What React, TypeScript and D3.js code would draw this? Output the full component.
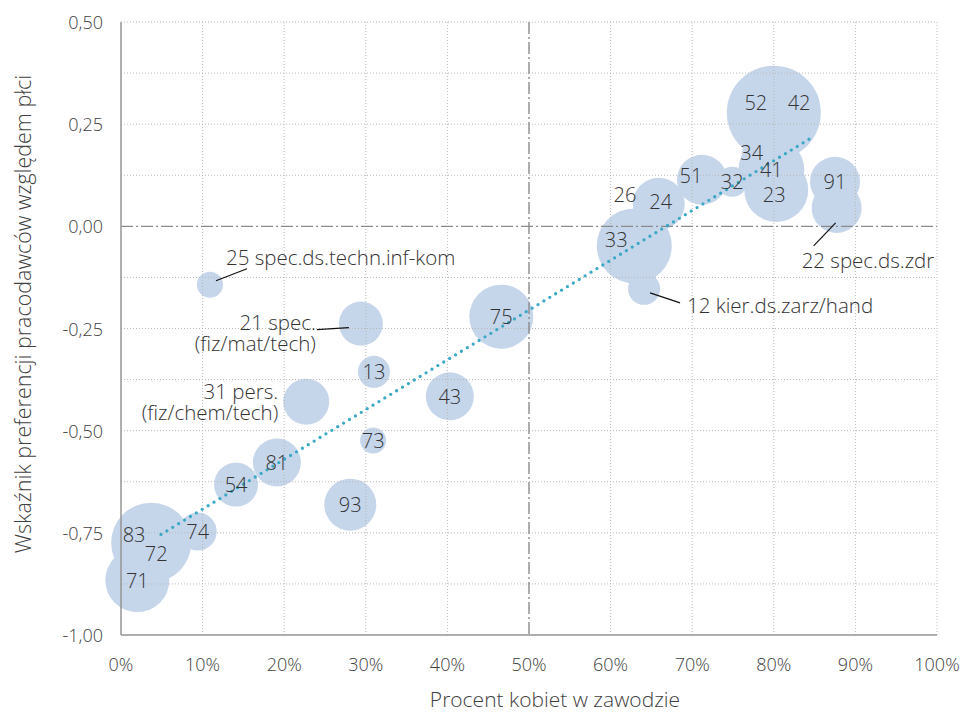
import React from "react";
import * as d3 from "d3";

// ---- data ----
const codes = ["52","42","34","41","23","91","22","51","32","24","26","33","12","75","43","13","73","21","31","25","81","54","93","74","72","83","71"];
const pctWomen = [80.0,83.1,77.3,79.7,80.3,87.5,87.7,71.2,74.9,65.9,63.6,62.9,64.1,46.6,40.3,31.0,30.9,29.4,22.7,10.9,19.1,14.1,28.1,9.4,3.7,1.6,2.0];
const prefIndex = [0.278,0.302,0.180,0.138,0.089,0.109,0.045,0.114,0.109,0.055,0.011,-0.048,-0.153,-0.221,-0.416,-0.356,-0.524,-0.238,-0.429,-0.143,-0.578,-0.632,-0.681,-0.747,-0.774,-0.754,-0.866];
const sizes = [2209,400,100,1089,1024,625,625,625,225,676,144,1406,256,1024,576,256,169,484,529,169,576,484,676,361,1600,400,1024];

const xTicks = [0,10,20,30,40,50,60,70,80,90,100];
const yTicks = [0.5,0.25,0,-0.25,-0.5,-0.75,-1];
const yGrid = [0.5,0.375,0.25,0.125,-0.125,-0.25,-0.375,-0.5,-0.625,-0.75,-0.875];
const trendX = [4.9, 84.8];
const trendY = [-0.754, 0.219];

// codes with external labels
const externalCodes = ["25","21","31","22","12"];
const externalLabels = [
  { code: "25", lines: ["25 spec.ds.techn.inf-kom"] },
  { code: "21", lines: ["21 spec.", "(fiz/mat/tech)"] },
  { code: "31", lines: ["31 pers.", "(fiz/chem/tech)"] },
  { code: "22", lines: ["22 spec.ds.zdr"] },
  { code: "12", lines: ["12 kier.ds.zarz/hand"] },
];

// layout (px)
const labelShift: Record<string, [number, number]> = {
  "52": [-18, -10], "26": [-15, -27], "33": [-18, -6], "51": [-11, -4],
  "72": [5, 11], "23": [-2, 5], "24": [2, -2],
};
const extLayout: Record<string, { anchor: string; tx: number; ty: number; line: [number, number, number, number] | null }> = {
  "25": { anchor: "start", tx: 16, ty: -28, line: [6, -4, 37, -16] },
  "21": { anchor: "end", tx: -45, ty: -1.5, line: [-12, 4, -44, 6] },
  "31": { anchor: "end", tx: -28, ty: -10.5, line: null },
  "22": { anchor: "start", tx: -35, ty: 52, line: [-1, 15, -23, 38] },
  "12": { anchor: "start", tx: 43, ty: 16, line: [6, 4, 36, 14] },
};

const W = 966, H = 713;
const m = { left: 121, right: 937, top: 22, bottom: 635 };
const FONT = "'Open Sans', 'Noto Sans', sans-serif";

export default function App() {
  const x = d3.scaleLinear().domain([0, 100]).range([m.left, m.right]);
  const y = d3.scaleLinear().domain([-1, 0.5]).range([m.bottom, m.top]);
  const r = d3.scaleSqrt().domain([0, d3.max(sizes)!]).range([0, 47]);
  const fmtY = (v: number) => d3.format(".2f")(v).replace(".", ",").replace("−", "-");

  const bubbles = codes.map((c, i) => ({ code: c, cx: x(pctWomen[i]), cy: y(prefIndex[i]), r: r(sizes[i]) }));
  const byCode: Record<string, typeof bubbles[0]> = {};
  bubbles.forEach((b) => (byCode[b.code] = b));

  const trend = d3.line<number>().x((_, i) => x(trendX[i])).y((_, i) => y(trendY[i]));

  return (
    <svg width={W} height={H} style={{ position: "absolute", left: 0, top: 0, background: "#fff" }} fontFamily={FONT}>
      {/* bubbles */}
      {bubbles.map((b) => (
        <circle key={"c" + b.code} cx={b.cx} cy={b.cy} r={b.r} fill="#c6d6ea" />
      ))}
      {/* grid */}
      {yGrid.map((v) => (
        <line key={"gy" + v} x1={m.left} x2={m.right} y1={y(v)} y2={y(v)} stroke="#b8b8b8" strokeWidth={1} strokeDasharray="1 2" />
      ))}
      {xTicks.filter((v) => v !== 0 && v !== 50).map((v) => (
        <line key={"gx" + v} x1={x(v)} x2={x(v)} y1={m.top} y2={m.bottom} stroke="#b8b8b8" strokeWidth={1} strokeDasharray="1 2" />
      ))}
      {/* dashed reference lines */}
      <line x1={m.left} x2={m.right} y1={y(0)} y2={y(0)} stroke="#8a8a8a" strokeWidth={1.4} strokeDasharray="12 3 2 3" />
      <line x1={x(50)} x2={x(50)} y1={m.top} y2={m.bottom} stroke="#8a8a8a" strokeWidth={1.4} strokeDasharray="12 3 2 3" />
      {/* axes */}
      <line x1={m.left} x2={m.left} y1={m.top} y2={m.bottom} stroke="#959595" strokeWidth={1.5} />
      <line x1={m.left} x2={m.right} y1={m.bottom} y2={m.bottom} stroke="#959595" strokeWidth={1.5} />
      {/* trend line */}
      <path d={trend([0, 1]) || ""} fill="none" stroke="#3ba9c6" strokeWidth={3.3} strokeLinecap="round" strokeDasharray="0 6.9" />
      {/* bubble labels */}
      {bubbles.filter((b) => !externalCodes.includes(b.code)).map((b) => {
        const s = labelShift[b.code] || [0, 0];
        return (
          <text key={"t" + b.code} x={b.cx + s[0]} y={b.cy + s[1]} textAnchor="middle" dominantBaseline="central" fontSize={20} fontWeight={300} fill="#333">
            {b.code}
          </text>
        );
      })}
      {/* external labels */}
      {externalLabels.map((e) => {
        const b = byCode[e.code];
        const L = extLayout[e.code];
        return (
          <g key={"e" + e.code}>
            {L.line && (
              <line x1={b.cx + L.line[0]} y1={b.cy + L.line[1]} x2={b.cx + L.line[2]} y2={b.cy + L.line[3]} stroke="#111" strokeWidth={1.2} />
            )}
            {e.lines.map((t, j) => (
              <text key={j} x={b.cx + L.tx} y={b.cy + L.ty + j * 21} textAnchor={L.anchor} dominantBaseline="central" fontSize={20.5} fontWeight={300} fill="#333">
                {t}
              </text>
            ))}
          </g>
        );
      })}
      {/* y ticks */}
      {yTicks.map((v) => (
        <text key={"yt" + v} x={103} y={y(v)} textAnchor="end" dominantBaseline="central" fontSize={18} fontWeight={300} fill="#404040">
          {fmtY(v)}
        </text>
      ))}
      {/* x ticks */}
      {xTicks.map((v) => (
        <text key={"xt" + v} x={x(v)} y={664} textAnchor="middle" dominantBaseline="central" fontSize={18} fontWeight={300} fill="#404040">
          {v + "%"}
        </text>
      ))}
      {/* axis titles */}
      <text x={555} y={699} textAnchor="middle" dominantBaseline="central" fontSize={21} fontWeight={300} fill="#404040">
        Procent kobiet w zawodzie
      </text>
      <text transform={`translate(22,${314}) rotate(-90)`} textAnchor="middle" dominantBaseline="central" fontSize={21.5} fontWeight={300} fill="#404040">
        Wskaźnik preferencji pracodawców względem płci
      </text>
    </svg>
  );
}
